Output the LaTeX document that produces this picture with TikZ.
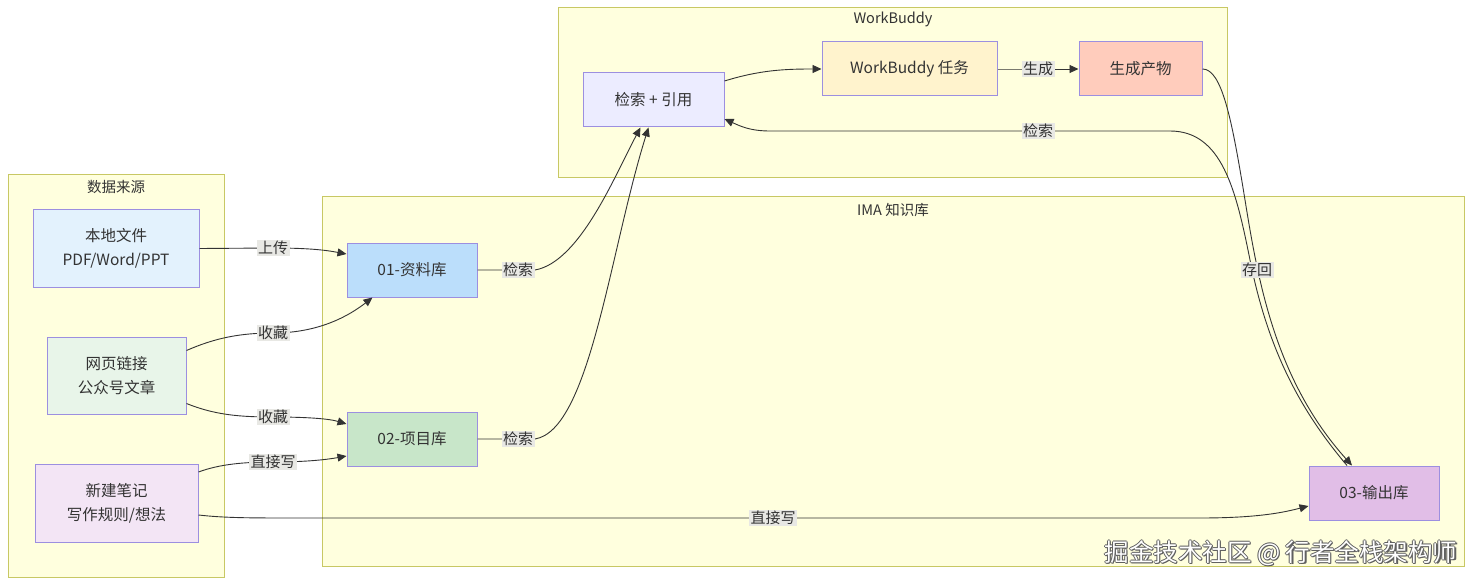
\documentclass[tikz,border=0pt]{standalone}
\usepackage{fontspec}
\setmainfont{Noto Sans CJK SC}
\usetikzlibrary{arrows.meta,calc}
\definecolor{clfill}{HTML}{FFFFDE}
\definecolor{cldraw}{HTML}{C8C864}
\definecolor{ndraw}{HTML}{9C8FE0}
\definecolor{txt}{HTML}{333333}
\definecolor{lblbg}{HTML}{E8E8E4}
\definecolor{cA}{HTML}{E3F2FD}
\definecolor{cB}{HTML}{E8F5E9}
\definecolor{cC}{HTML}{F3E5F5}
\definecolor{cD}{HTML}{BBDEFB}
\definecolor{cE}{HTML}{C8E6C9}
\definecolor{cF}{HTML}{E1BEE7}
\definecolor{cG}{HTML}{ECECFF}
\definecolor{cH}{HTML}{FFF3CD}
\definecolor{cI}{HTML}{FFCCBC}
\tikzset{
  cluster/.style={draw=cldraw, fill=clfill, line width=1pt},
  cltitle/.style={text=txt, font=\fontsize{14.5}{17}\selectfont, inner sep=0pt},
  box/.style={draw=ndraw, line width=1pt, text=txt, align=center,
    font=\fontsize{15.5}{24}\selectfont, inner sep=0pt},
  edge/.style={draw=txt, line width=0.9pt, -{Triangle[length=9pt,width=8pt]}},
  lbl/.style={fill=lblbg, text=txt, font=\fontsize{15}{17}\selectfont, inner sep=1.5pt},
  wm/.style={font=\fontsize{24.5}{28}\selectfont, inner sep=0pt}
}
\begin{document}
\begin{tikzpicture}[x=1pt,y=-1pt]
\useasboundingbox (0,0) rectangle (1480,588);
\fill[white] (0,0) rectangle (1480,588);

% clusters
\draw[cluster] (8,175) rectangle (224,577);
\node[cltitle] (t1) at (116,187) {数据来源};
\draw[cluster] (322,197) rectangle (1464,566);
\node[cltitle] (t2) at (893,210) {IMA 知识库};
\draw[cluster] (558,8) rectangle (1227,178);
\node[cltitle] (t3) at (893,19) {WorkBuddy};

% nodes
\node[box, fill=cA, minimum width=166pt, minimum height=77pt] (src1) at (116,248.5) {本地文件\\PDF/Word/PPT};
\node[box, fill=cB, minimum width=139pt, minimum height=77pt] (src2) at (116.5,375.5) {网页链接\\公众号文章};
\node[box, fill=cC, minimum width=163pt, minimum height=78pt] (src3) at (116.5,503) {新建笔记\\写作规则/想法};
\node[box, fill=cD, minimum width=130pt, minimum height=54pt] (lib1) at (412,270) {01-资料库};
\node[box, fill=cE, minimum width=130pt, minimum height=54pt] (lib2) at (412,439) {02-项目库};
\node[box, fill=cF, minimum width=130pt, minimum height=54pt] (out) at (1374,493) {03-输出库};
\node[box, fill=cG, minimum width=141pt, minimum height=54pt] (ret) at (653.5,100) {检索 + 引用};
\node[box, fill=cH, minimum width=175pt, minimum height=54pt] (task) at (909.5,69) {WorkBuddy 任务};
\node[box, fill=cI, minimum width=123pt, minimum height=54pt] (gen) at (1140.5,69) {生成产物};

% label positions
\coordinate (l1) at (273,248);
\coordinate (l2) at (273,333);
\coordinate (l3) at (273,417);
\coordinate (l4) at (273,462);
\coordinate (l5) at (773,518);
\coordinate (l6) at (518,270);
\coordinate (l7) at (518,439);
\coordinate (l9) at (1038,69);
\coordinate (l10) at (1257,270);
\coordinate (l11) at (1038,131);

% edges
\draw[edge] (src1.east) -- (l1) .. controls (315,248) and (330,251) .. ($(lib1.west)+(0,-16)$);
\draw[edge] ($(src2.east)+(0,-25)$) .. controls (215,338) and (240,333) .. (l2)
   .. controls (320,333) and (350,315) .. ($(lib1.south west)+(26,0)$);
\draw[edge] ($(src2.east)+(0,28)$) .. controls (215,415) and (240,417) .. (l3)
   .. controls (310,417) and (330,419) .. ($(lib2.west)+(0,-15)$);
\draw[edge] ($(src3.east)+(0,-31)$) .. controls (220,464) and (245,462) .. (l4)
   .. controls (310,462) and (330,459) .. ($(lib2.west)+(0,17)$);
\draw[edge] ($(src3.east)+(0,12)$) .. controls (225,518) and (250,518) .. (300,518) -- (l5) -- (1200,518)
   .. controls (1260,518) and (1285,512) .. ($(out.west)+(0,13)$);
\draw[edge] (lib1.east) -- (l6) -- (535,270) .. controls (580,262) and (615,175) .. ($(ret.south)+(-13,0)$);
\draw[edge] (lib2.east) -- (l7) -- (535,439) .. controls (590,430) and (610,250) .. ($(ret.south)+(-5,0)$);
\draw[edge] ($(ret.east)+(0,-19)$) .. controls (760,70) and (785,69) .. (task.west);
\draw[edge] (task.east) -- (l9) -- (gen.west);
\draw[edge] (gen.east) .. controls (1222,69) and (1232,120) .. (1245,200)
   .. controls (1258,280) and (1275,380) .. ($(out.north)+(-22,0)$);
\draw[edge] ($(out.north)+(-27,0)$) .. controls (1300,410) and (1268,350) .. (1250,260)
   .. controls (1236,190) and (1222,131) .. (1170,131) -- (l11) -- (770,131)
   .. controls (750,131) and (740,126) .. ($(ret.east)+(0,19)$);

% labels
\node[lbl] (n1) at (l1) {上传};
\node[lbl] (n2) at (l2) {收藏};
\node[lbl] (n3) at (l3) {收藏};
\node[lbl] (n4) at (l4) {直接写};
\node[lbl] (n5) at (l5) {直接写};
\node[lbl] (n6) at (l6) {检索};
\node[lbl] (n7) at (l7) {检索};
\node[lbl] (n9) at (l9) {生成};
\node[lbl] (n10) at (l10) {存回};
\node[lbl] (n11) at (l11) {检索};

% watermark
\foreach \dx/\dy in {-0.9/0,0.9/0,0/-0.9,0/0.9,1.3/1.3}
  \node[wm, text=gray!75!black] at ($(1281,553)+(\dx,\dy)$) {掘金技术社区 @ 行者全栈架构师};
\node[wm, text=white] (wmk) at (1281,553) {掘金技术社区 @ 行者全栈架构师};
\end{tikzpicture}
\end{document}
